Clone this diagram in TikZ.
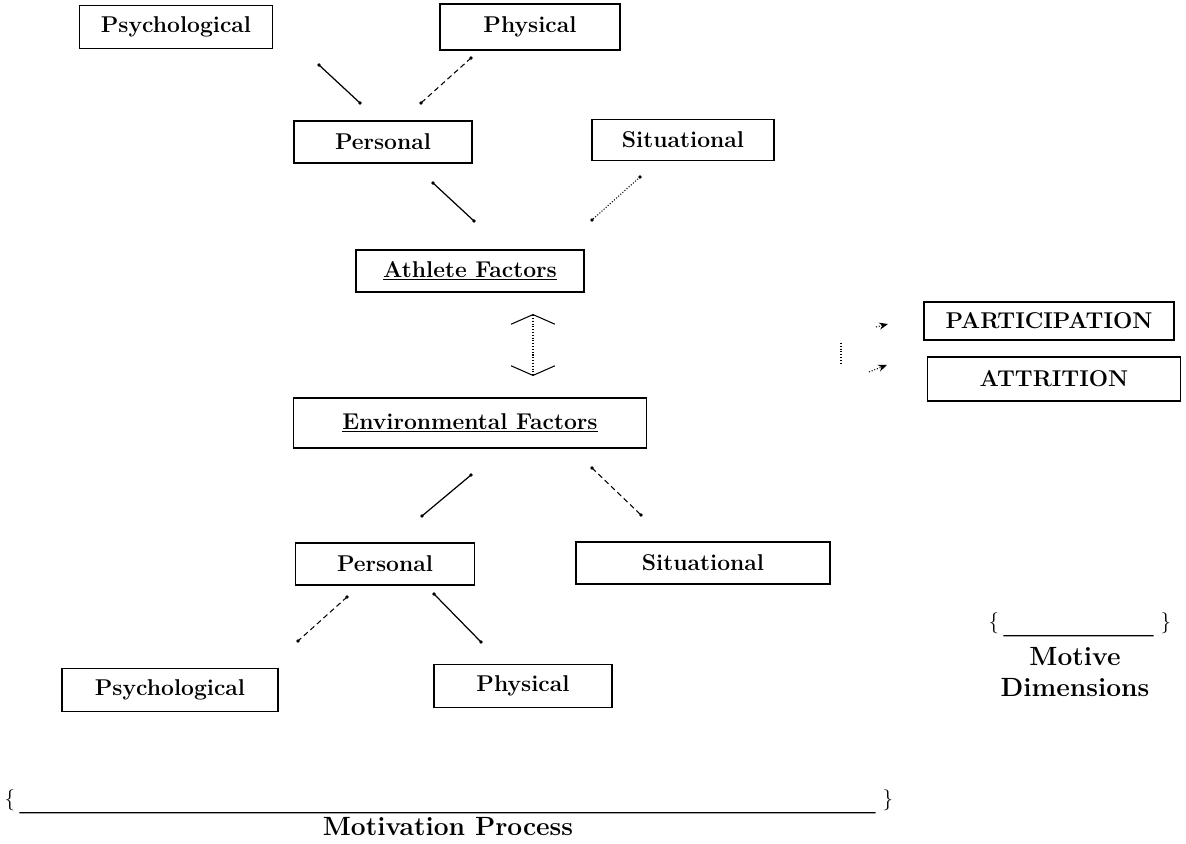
\documentclass[tikz,border=0pt]{standalone}
\usetikzlibrary{arrows.meta}
\tikzset{
  box/.style={draw, line width=0.7pt, inner sep=2pt, font=\fontsize{13}{15}\selectfont\bfseries},
  link/.style={line width=0.7pt},
  dlink/.style={line width=0.6pt, densely dashed},
  tlink/.style={line width=0.6pt, densely dotted},
  caption/.style={align=center, font=\fontsize{15}{18}\selectfont\bfseries},
}
\begin{document}
\begin{tikzpicture}[x=0.02cm, y=-0.02cm, >=stealth]
    \useasboundingbox (0,0) rectangle (1186,844);
    \node[box, minimum width=3.86cm, minimum height=0.86cm] (psyA) at (176,27) {Psychological};
    \node[box, minimum width=3.6cm, minimum height=0.92cm] (phyA) at (530,27) {Physical};
    \node[box, minimum width=3.56cm, minimum height=0.84cm] (perA) at (383,142) {Personal};
    \node[box, minimum width=3.64cm, minimum height=0.82cm] (sitA) at (683,140) {Situational};
    \node[box, minimum width=4.56cm, minimum height=0.84cm] (ath) at (470,271) {\underline{Athlete Factors}};
    \node[box, minimum width=5.0cm, minimum height=0.76cm] (part) at (1049,321) {PARTICIPATION};
    \node[box, minimum width=5.06cm, minimum height=0.88cm] (attr) at (1054,379) {ATTRITION};
    \node[box, minimum width=7.06cm, minimum height=1.0cm] (env) at (470,423) {\underline{Environmental Factors}};
    \node[box, minimum width=3.58cm, minimum height=0.84cm] (perB) at (385,564) {Personal};
    \node[box, minimum width=5.08cm, minimum height=0.84cm] (sitB) at (703,563) {Situational};
    \node[box, minimum width=4.32cm, minimum height=0.86cm] (psyB) at (170,690) {Psychological};
    \node[box, minimum width=3.56cm, minimum height=0.86cm] (phyB) at (523,686) {Physical};
    \coordinate (a1) at (319,65);  \coordinate (a2) at (360,103);
    \coordinate (b1) at (471,58);  \coordinate (b2) at (421,103);
    \coordinate (c1) at (433,183); \coordinate (c2) at (474,221);
    \coordinate (d1) at (640,177); \coordinate (d2) at (592,220);
    \coordinate (e1) at (471,475); \coordinate (e2) at (422,516);
    \coordinate (f1) at (592,468); \coordinate (f2) at (641,515);
    \coordinate (g1) at (347,597); \coordinate (g2) at (298,641);
    \coordinate (h1) at (434,594); \coordinate (h2) at (481,642);
    \foreach \p/\q/\s in {a1/a2/link, b1/b2/dlink, c1/c2/link, d1/d2/tlink,
                          e1/e2/link, f1/f2/dlink, g1/g2/dlink, h1/h2/link} {
        \draw[\s] (\p) -- (\q);
        \fill (\p) circle (1.1pt) (\q) circle (1.1pt);
    }
    \coordinate (up) at (533,314);
    \coordinate (dn) at (533,376);
    \draw[tlink, {Straight Barb[width=25pt, length=5.5pt, line width=0.6pt]}-{Straight Barb[width=25pt, length=5.5pt, line width=0.6pt]}] (up) -- (dn);
    \coordinate (s1) at (841,343); \coordinate (s2) at (841,364);
    \draw[tlink] (s1) -- (s2);
    \coordinate (p1) at (876,327); \coordinate (p2) at (888,324);
    \coordinate (q1) at (869,372); \coordinate (q2) at (887,365);
    \draw[tlink, -{Stealth[length=5pt, width=4pt]}] (p1) -- (p2);
    \draw[tlink, -{Stealth[length=5pt, width=4pt]}] (q1) -- (q2);
    \node[font=\fontsize{12}{14}\selectfont] (mdl) at (994,623) {\{};
    \node[font=\fontsize{12}{14}\selectfont] (mdr) at (1166,623) {\}};
    \draw[line width=0.6pt] (mdl.south east) ++(-2,-4) -- ([xshift=-0.02cm, yshift=0.08cm]mdr.south west);
    \node[caption] (mdim) at (1075,672) {Motive\\Dimensions};
    \node[font=\fontsize{12}{14}\selectfont] (mpl) at (10,800) {\{};
    \node[font=\fontsize{12}{14}\selectfont] (mpr) at (888,800) {\}};
    \draw[line width=0.6pt] (mpl.south east) ++(-2,-4) -- ([xshift=-0.02cm, yshift=0.08cm]mpr.south west);
    \node[caption] (mproc) at (448,827) {Motivation Process};
\end{tikzpicture}
\end{document}
